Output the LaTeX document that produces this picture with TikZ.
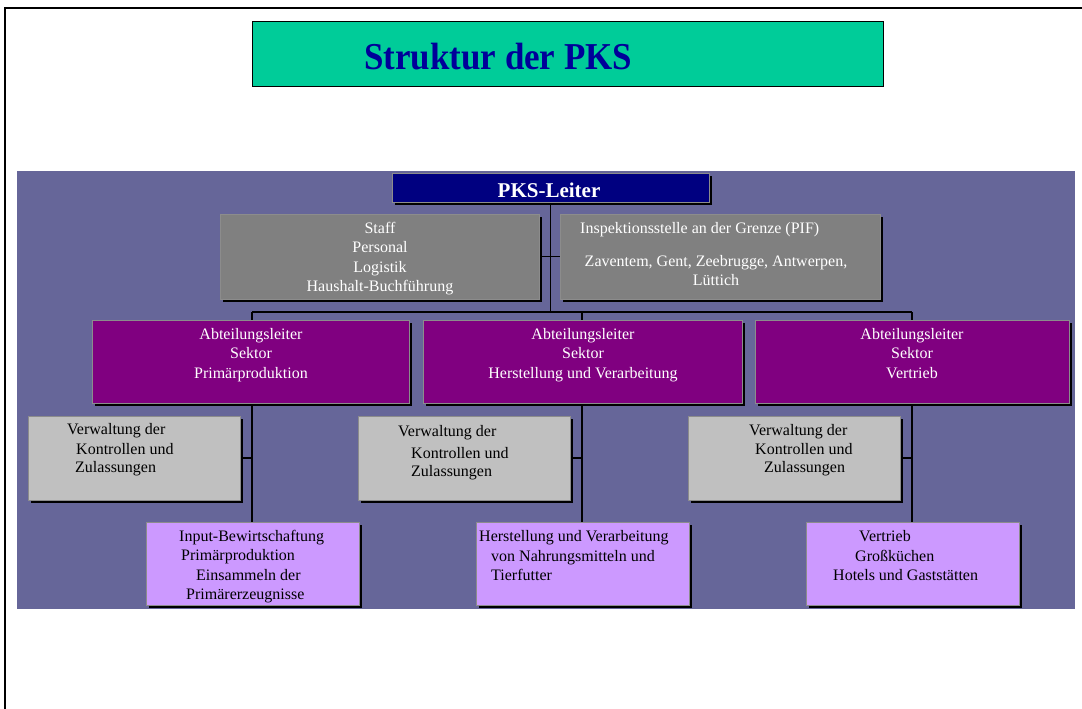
\documentclass[tikz,border=0pt]{standalone}
\usepackage{fontspec}
\usepackage{graphicx}
\setmainfont{Liberation Serif}
\usetikzlibrary{shadows}
\pgfdeclarelayer{back}
\pgfdeclarelayer{mid}
\pgfsetlayers{back,mid,main}
\definecolor{bgblue}{RGB}{102,102,153}
\definecolor{titlegreen}{RGB}{0,204,153}
\definecolor{titleblue}{RGB}{0,0,153}
\definecolor{navy}{RGB}{0,0,128}
\definecolor{midgray}{RGB}{128,128,128}
\definecolor{lightgray}{RGB}{192,192,192}
\definecolor{purp}{RGB}{128,0,128}
\definecolor{lilac}{RGB}{204,153,255}
\definecolor{edgegray}{RGB}{140,140,140}
\tikzset{
  box/.style={rectangle, inner sep=0pt, outer sep=0pt, draw=edgegray, line width=0.8pt,
    drop shadow={shadow xshift=2.8pt, shadow yshift=-2.8pt, fill=black, opacity=1}},
  txt/.style={inner sep=0pt, font=\fontsize{16}{19}\selectfont},
  wtxt/.style={txt, text=white},
  btxt/.style={txt, text=black},
  conn/.style={draw=black, line width=1.1pt},
}
\begin{document}
\begin{tikzpicture}[x=1pt,y=-1pt]
\useasboundingbox (0,0) rectangle (1082,709);
% frame
\draw[line width=2pt] (5,709) -- (5,8) -- (1082,8);
% title
\node[rectangle, draw=black, line width=1pt, fill=titlegreen, minimum width=631pt, minimum height=65pt, inner sep=0pt] (title) at (567.5,54.5) {};
\node[inner sep=0pt, anchor=base west, text=titleblue, font=\fontsize{38}{40}\selectfont\bfseries] (titletext) at (364,70) {\scalebox{0.92}[1]{Struktur der PKS}};
% background panel
\begin{pgfonlayer}{back}
\fill[bgblue] (17,171) rectangle (1075,609);
\end{pgfonlayer}
% boxes
\node[box, fill=navy, minimum width=317pt, minimum height=29pt] (leiter) at (550.5,187.5) {};
\node[box, fill=midgray, minimum width=319pt, minimum height=85pt] (staff) at (379.5,256.5) {};
\node[box, fill=midgray, minimum width=320pt, minimum height=85pt] (pif) at (720,256.5) {};
\node[box, fill=purp, minimum width=317pt, minimum height=83pt] (p1) at (250.5,361.5) {};
\node[box, fill=purp, minimum width=319pt, minimum height=83pt] (p2) at (582.5,361.5) {};
\node[box, fill=purp, minimum width=314pt, minimum height=83pt] (p3) at (912,361.5) {};
\node[box, fill=lightgray, minimum width=212pt, minimum height=84pt] (g1) at (134,458) {};
\node[box, fill=lightgray, minimum width=212pt, minimum height=84pt] (g2) at (464,458) {};
\node[box, fill=lightgray, minimum width=212pt, minimum height=84pt] (g3) at (794,458) {};
\node[box, fill=lilac, minimum width=213pt, minimum height=83pt] (l1) at (252.5,563.5) {};
\node[box, fill=lilac, minimum width=213pt, minimum height=83pt] (l2) at (582.5,563.5) {};
\node[box, fill=lilac, minimum width=213pt, minimum height=83pt] (l3) at (912.5,563.5) {};
% connectors
\coordinate (trunk) at (550.5,312);
\coordinate (busL) at (252,312);
\coordinate (busM) at (582,312);
\coordinate (busR) at (912,312);
\begin{pgfonlayer}{mid}
\draw[conn] (leiter.center) -- (trunk);
\draw[conn] (staff.center) -- (pif.center);
\draw[conn] (busL) -- (busR);
\draw[conn] (busL) -- (busL |- l1.center);
\draw[conn] (busM) -- (busM |- l2.center);
\draw[conn] (busR) -- (busR |- l3.center);
\draw[conn] (g1.center) -- (g1.center -| busL);
\draw[conn] (g2.center) -- (g2.center -| busM);
\draw[conn] (g3.center) -- (g3.center -| busR);
\end{pgfonlayer}
% texts
\node[inner sep=0pt, anchor=base, text=white, font=\fontsize{21}{24}\selectfont\bfseries] (tleiter) at (549,197) {PKS-Leiter};
\node[wtxt, anchor=base] (ts1) at (380,233) {Staff};
\node[wtxt, anchor=base] (ts2) at (380,252.5) {Personal};
\node[wtxt, anchor=base] (ts3) at (380,272) {Logistik};
\node[wtxt, anchor=base] (ts4) at (380,291.5) {Haushalt-Buchführung};
\node[wtxt, anchor=base west] (tp1) at (580,233) {Inspektionsstelle an der Grenze (PIF)};
\node[wtxt, anchor=base] (tp2) at (716,266) {Zaventem, Gent, Zeebrugge, Antwerpen,};
\node[wtxt, anchor=base] (tp3) at (716,285) {Lüttich};
\node[wtxt, anchor=base] (ta1) at (251,339) {Abteilungsleiter};
\node[wtxt, anchor=base] (ta2) at (251,358.5) {Sektor};
\node[wtxt, anchor=base] (ta3) at (251,378) {Primärproduktion};
\node[wtxt, anchor=base] (tb1) at (583,339) {Abteilungsleiter};
\node[wtxt, anchor=base] (tb2) at (583,358.5) {Sektor};
\node[wtxt, anchor=base] (tb3) at (583,378) {Herstellung und Verarbeitung};
\node[wtxt, anchor=base] (tc1) at (912,339) {Abteilungsleiter};
\node[wtxt, anchor=base] (tc2) at (912,358.5) {Sektor};
\node[wtxt, anchor=base] (tc3) at (912,378) {Vertrieb};
\node[btxt, anchor=base west] (tg11) at (67,434) {Verwaltung der};
\node[btxt, anchor=base west] (tg12) at (76,454) {Kontrollen und};
\node[btxt, anchor=base west] (tg13) at (75,472.5) {Zulassungen};
\node[btxt, anchor=base west] (tg21) at (398,436) {Verwaltung der};
\node[btxt, anchor=base west] (tg22) at (411,458.5) {Kontrollen und};
\node[btxt, anchor=base west] (tg23) at (411,476.5) {Zulassungen};
\node[btxt, anchor=base west] (tg31) at (749,435) {Verwaltung der};
\node[btxt, anchor=base west] (tg32) at (755,454) {Kontrollen und};
\node[btxt, anchor=base west] (tg33) at (764,472.5) {Zulassungen};
\node[btxt, anchor=base west] (tl11) at (179,541) {Input-Bewirtschaftung};
\node[btxt, anchor=base west] (tl12) at (181,560) {Primärproduktion};
\node[btxt, anchor=base west] (tl13) at (196,580) {Einsammeln der};
\node[btxt, anchor=base west] (tl14) at (186,599) {Primärerzeugnisse};
\node[btxt, anchor=base west] (tl21) at (479,541) {Herstellung und Verarbeitung};
\node[btxt, anchor=base west] (tl22) at (491,561) {von Nahrungsmitteln und};
\node[btxt, anchor=base west] (tl23) at (491,580) {Tierfutter};
\node[btxt, anchor=base west] (tl31) at (859,541) {Vertrieb};
\node[btxt, anchor=base west] (tl32) at (855,561) {Großküchen};
\node[btxt, anchor=base west] (tl33) at (833,580) {Hotels und Gaststätten};
\end{tikzpicture}
\end{document}
